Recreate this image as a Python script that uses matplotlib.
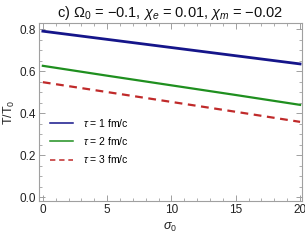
import matplotlib
matplotlib.use("Agg")
import matplotlib.pyplot as plt
from matplotlib.ticker import MultipleLocator
import numpy as np

sigma0 = [0, 5, 10, 15, 20]
T_tau1 = [0.790, 0.751, 0.712, 0.673, 0.634]
T_tau2 = [0.625, 0.578, 0.532, 0.486, 0.439]
T_tau3 = [0.547, 0.500, 0.453, 0.406, 0.358]
labels = [r"$\tau$ = 1 fm/c", r"$\tau$ = 2 fm/c", r"$\tau$ = 3 fm/c"]

plt.rcParams['font.family'] = ['Liberation Sans', 'DejaVu Sans']
plt.rcParams['mathtext.fontset'] = 'custom'
plt.rcParams['mathtext.rm'] = 'Liberation Sans'
plt.rcParams['mathtext.it'] = 'Liberation Sans:italic'
plt.rcParams['mathtext.bf'] = 'Liberation Sans:bold'

fig = plt.figure(figsize=(3.05, 2.4), dpi=100)
ax = fig.add_axes([39/305, 39/240, 263/305, 178/240])

ax.plot(sigma0, T_tau1, color='#15158a', lw=2.0, label=labels[0])
ax.plot(sigma0, T_tau2, color='#1f8f1f', lw=1.6, label=labels[1])
ax.plot(sigma0, T_tau3, color='#c02a2a', lw=1.6, ls=(0, (3.5, 2.5)), label=labels[2])

ax.set_xlim(-0.3, 20.15)
ax.set_ylim(-0.019, 0.829)
ax.xaxis.set_major_locator(MultipleLocator(5))
ax.xaxis.set_minor_locator(MultipleLocator(1))
ax.yaxis.set_major_locator(MultipleLocator(0.2))
ax.yaxis.set_minor_locator(MultipleLocator(0.05))
ax.yaxis.set_major_formatter(matplotlib.ticker.FormatStrFormatter('%.1f'))

for s in ax.spines.values():
    s.set_color('#a0a0a0')
    s.set_linewidth(0.8)
ax.tick_params(which='both', direction='in', top=True, right=True, color='#a0a0a0',
               labelsize=8.5, labelcolor='#222222')
ax.tick_params(which='major', length=4, width=0.7, pad=2)
ax.tick_params(which='minor', length=2, width=0.6)

ax.set_xlabel(r"$\sigma_0$", fontsize=9, labelpad=4, color='#222222')
ax.set_ylabel(r"T/T$_0$", fontsize=9, labelpad=2, color='#222222')
ax.set_title(r"c) $\Omega_0$ = $-$0.1, $\chi_e$ = 0.01, $\chi_m$ = $-$0.02",
             fontsize=10.5, pad=4, color='#111111')

leg = ax.legend(loc='center left', bbox_to_anchor=(0.042, 0.337), frameon=False,
                fontsize=7.5, handlelength=2.2, handletextpad=1.0, labelspacing=0.6,
                borderpad=0, borderaxespad=0)
for h in leg.get_lines():
    h.set_linewidth(1.1)

fig.savefig("out.png", dpi=100)
